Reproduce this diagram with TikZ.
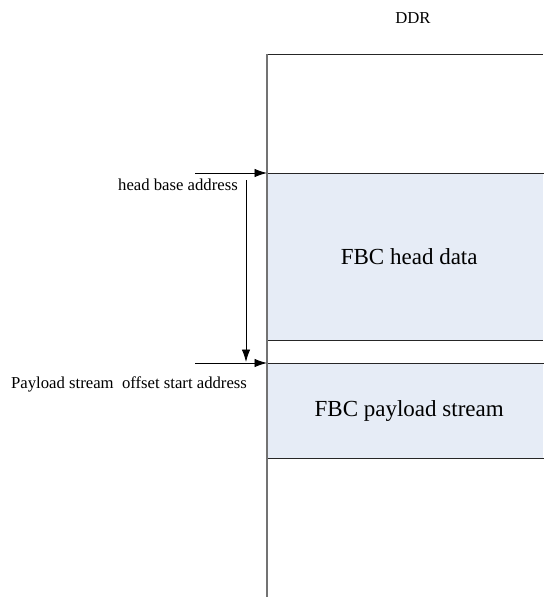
\documentclass[tikz,border=0pt]{standalone}
\usepackage{fontspec}
\setmainfont{Liberation Serif}
\usetikzlibrary{arrows.meta}
\definecolor{boxfill}{HTML}{E6ECF6}
\tikzset{
  memblock/.style={fill=boxfill, draw=none, minimum width=276pt, anchor=north west, inner sep=0pt, font=\fontsize{23}{26}\selectfont},
  sep/.style={draw=black!85, line width=0.9pt},
  lbl/.style={font=\fontsize{16.7}{19}\selectfont, inner sep=0pt},
  ptr/.style={draw=black, line width=0.9pt, -{Latex[length=12.5pt,width=8.5pt]}},
  axis/.style={draw=black!55, line width=1.6pt}
}
\begin{document}
\begin{tikzpicture}[x=1pt,y=-1pt]
\useasboundingbox (0,0) rectangle (543,599);
% memory blocks
\node[memblock, minimum height=167pt] (head) at (267,173) {\hspace*{8pt}FBC head data};
\node[memblock, minimum height=95pt] (pay) at (267,363) {\hspace*{8pt}FBC payload stream};
% coordinates
\coordinate (top) at (267,54);
\coordinate (bot) at (267,597);
\coordinate (topR) at (543,54);
\coordinate (gapT) at (267,340);
\coordinate (gapTR) at (543,340);
% separators
\draw[sep] (top) -- (topR);
\draw[sep] (head.north west) -- ([xshift=10pt]head.north east);
\draw[sep] (gapT) -- (gapTR);
\draw[sep] (pay.north west) -- ([xshift=10pt]pay.north east);
\draw[sep] (pay.south west) -- ([xshift=10pt]pay.south east);
\draw[axis] (top) -- (bot);
% labels
\node[lbl] (ddr) at (413,18) {DDR};
\node[lbl, anchor=east] (hba) at (238,185) {head base address};
\node[lbl, anchor=west] (psa) at (11,384) {Payload stream\ \ offset start address};
% arrows
\coordinate (a1) at (195,173);
\coordinate (a2) at (195,363);
\coordinate (v1) at (246,180);
\coordinate (v2) at (246,362);
\draw[ptr] (a1) -- (head.north west);
\draw[ptr] (a2) -- (pay.north west);
\draw[ptr] (v1) -- (v2);
\end{tikzpicture}
\end{document}
